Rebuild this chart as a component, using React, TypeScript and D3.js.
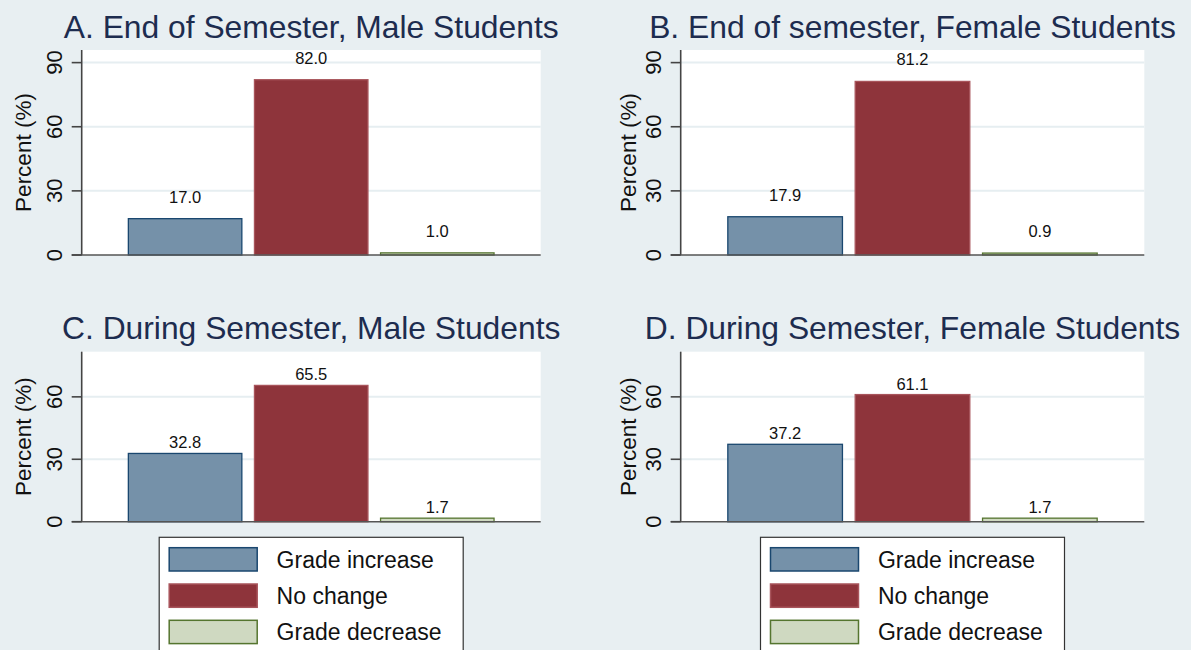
import React from 'react'
import * as d3 from 'd3'

// grade change shares by period and sex
const categories = ['Grade increase', 'No change', 'Grade decrease']
const endMale = [17.0, 82.0, 1.0]
const endFemale = [17.9, 81.2, 0.9]
const duringMale = [32.8, 65.5, 1.7]
const duringFemale = [37.2, 61.1, 1.7]
const topTicks = [0, 30, 60, 90]
const bottomTicks = [0, 30, 60]
const titles = [
  'A. End of Semester, Male Students',
  'B. End of semester, Female Students',
  'C. During Semester, Male Students',
  'D. During Semester, Female Students',
]

const W = 1191
const H = 650
const FONT = '"Liberation Sans", Arial, Helvetica, sans-serif'
const BG = '#e8eff2'
const GRID = '#e6eef1'
const fills = ['#7591a9', '#8e343b', '#cfd9c1']
const strokes = ['#1a476f', '#a8545b', '#55752f']

const panels = [
  {title: titles[0], values: endMale, ticks: topTicks, yMax: 95.9, x0: 81.7, x1: 540.7, top: 50, bottom: 255, gap: 16, labOff: 51},
  {title: titles[1], values: endFemale, ticks: topTicks, yMax: 95.9, x0: 680.7, x1: 1144.3, top: 50, bottom: 255, gap: 16, labOff: 45},
  {title: titles[2], values: duringMale, ticks: bottomTicks, yMax: 81.7, x0: 81.7, x1: 540.7, top: 351.7, bottom: 521.7, gap: 5, labOff: 51, legend: true},
  {title: titles[3], values: duringFemale, ticks: bottomTicks, yMax: 81.7, x0: 680.7, x1: 1144.3, top: 351.7, bottom: 521.7, gap: 5, labOff: 45, legend: true},
]

function Panel({p}: {p: any}) {
  const x = d3.scaleBand().domain(categories).range([p.x0, p.x1]).paddingInner(0.1).paddingOuter(0.37)
  const y = d3.scaleLinear().domain([0, p.yMax]).range([p.bottom, p.top])
  const cx = (p.x0 + p.x1) / 2
  const cy = (p.top + p.bottom) / 2

  return (
    <g>
      <text x={cx} y={p.top - 12.3} textAnchor="middle" fontSize={31.8} fill="#1d2c4f" fontFamily={FONT}>{p.title}</text>
      <rect x={p.x0} y={p.top} width={p.x1 - p.x0} height={p.bottom - p.top} fill="#fff" />
      {p.ticks.filter((t: number) => t > 0).map((t: number) => (
        <line key={'g' + t} x1={p.x0} x2={p.x1} y1={y(t)} y2={y(t)} stroke={GRID} strokeWidth={2} />
      ))}
      {p.values.map((v: number, i: number) => (
        <g key={categories[i]}>
          <rect x={x(categories[i])} y={y(v)} width={x.bandwidth()} height={p.bottom - y(v)}
            fill={fills[i]} stroke={strokes[i]} strokeWidth={1.3} />
          <text x={(x(categories[i]) as number) + x.bandwidth() / 2} y={y(v) - p.gap} textAnchor="middle"
            fontSize={16.5} fontFamily={FONT} fill="#111">{v.toFixed(1)}</text>
        </g>
      ))}
      <line x1={p.x0} x2={p.x0} y1={p.top} y2={p.bottom} stroke="#444" strokeWidth={1.6} />
      <line x1={p.x0 - 10} x2={p.x1} y1={p.bottom} y2={p.bottom} stroke="#555" strokeWidth={1.6} />
      {p.ticks.map((t: number) => (
        <g key={'t' + t}>
          <line x1={p.x0 - 10} x2={p.x0} y1={y(t)} y2={y(t)} stroke="#444" strokeWidth={1.6} />
          <text transform={`translate(${p.x0 - 20},${y(t)}) rotate(-90)`} textAnchor="middle"
            fontSize={22} fontFamily={FONT} fill="#111">{t}</text>
        </g>
      ))}
      <text transform={`translate(${p.x0 - p.labOff},${cy}) rotate(-90)`} textAnchor="middle"
        fontSize={22.5} fontFamily={FONT} fill="#111">Percent (%)</text>
      {p.legend && (
        <g transform={`translate(${cx - 152},537.3)`}>
          <rect x={0} y={0} width={304} height={130} fill="#fff" stroke="#333" strokeWidth={1.2} />
          {categories.map((c, i) => (
            <g key={c} transform={`translate(0,${10.4 + i * 36.3})`}>
              <rect x={10} y={0} width={88} height={23.3} fill={fills[i]} stroke={strokes[i]} strokeWidth={1.5} />
              <text x={117.4} y={11.65 + 8.3} fontSize={23} fontFamily={FONT} fill="#111">{c}</text>
            </g>
          ))}
        </g>
      )}
    </g>
  )
}

export default function App() {
  return (
    <svg width={W} height={H} style={{position: 'absolute', left: 0, top: 0}}>
      <rect width={W} height={H} fill={BG} />
      {panels.map(p => <Panel key={p.title} p={p} />)}
    </svg>
  )
}
